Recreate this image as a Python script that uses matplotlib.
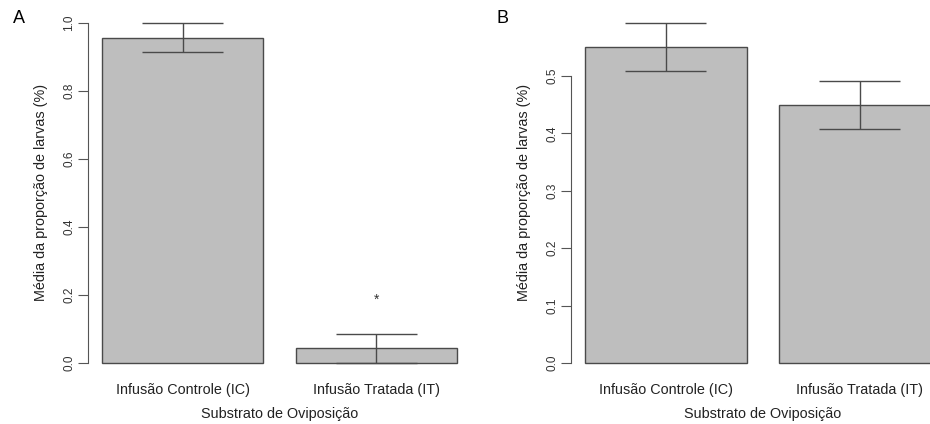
import matplotlib.pyplot as plt
import numpy as np

plt.rcParams['font.family'] = ['Liberation Sans', 'DejaVu Sans']

# dados
categorias = ['Infusão Controle (IC)', 'Infusão Tratada (IT)']
media_A = [0.956, 0.043]
ep_A = [0.044, 0.043]
media_B = [0.551, 0.449]
ep_B = [0.042, 0.042]
ticks_A = [0.0, 0.2, 0.4, 0.6, 0.8, 1.0]
ticks_B = [0.0, 0.1, 0.2, 0.3, 0.4, 0.5]
asterisco_A = [(2, 0.185)]

cinza = '#bebebe'
borda = '#4a4a4a'

fig = plt.figure(figsize=(9.3, 4.24), dpi=100)
axA = fig.add_axes([0.0941, 0.1118, 0.4129, 0.8672])
axB = fig.add_axes([0.6138, 0.1118, 0.4129, 0.8672])


def painel(ax, medias, eps, ticks, ymax, letra):
    x = np.array([0.7, 1.9])
    ax.bar(x, medias, width=1.0, color=cinza, edgecolor=borda, linewidth=1.0)
    lo = np.array(medias) - np.array(eps)
    hi = np.array(medias) + np.array(eps)
    ax.vlines(x, lo, hi, color=borda, linewidth=1.0)
    ax.hlines(lo, x - 0.25, x + 0.25, color=borda, linewidth=1.0)
    ax.hlines(hi, x - 0.25, x + 0.25, color=borda, linewidth=1.0)
    ax.set_xlim(0.112, 2.488)
    ax.set_ylim(-0.04 * ymax, 1.04 * ymax)
    for s in ['top', 'right', 'bottom']:
        ax.spines[s].set_visible(False)
    ax.spines['left'].set_bounds(ticks[0], ticks[-1])
    ax.spines['left'].set_color('#555555')
    ax.set_yticks(ticks)
    ax.set_yticklabels(['%.1f' % t for t in ticks], rotation=90, va='center',
                       fontsize=8.5, color='#333333')
    ax.tick_params(axis='y', length=7, width=0.8, color='#555555', pad=2)
    ax.set_xticks(x)
    ax.set_xticklabels(categorias, fontsize=10.4, color='#222222')
    ax.tick_params(axis='x', length=0, pad=4.5)
    ax.set_ylabel('Média da proporção de larvas (%)', fontsize=10.4,
                  color='#222222', va='center')
    ax.yaxis.set_label_coords(-0.121, 0.5)
    ax.set_xlabel('Substrato de Oviposição', fontsize=10.4, color='#222222', va='center')
    ax.xaxis.set_label_coords(0.5, -0.102)
    ax.text(-0.178, 0.975, letra, transform=ax.transAxes, fontsize=13,
            ha='center', va='center')


painel(axA, media_A, ep_A, ticks_A, 1.0, 'A')
painel(axB, media_B, ep_B, ticks_B, 0.593, 'B')
for xa, ya in asterisco_A:
    axA.text(xa - 0.1, ya, '*', ha='center', va='center', fontsize=10, color='#333333')

fig.savefig('out.png', dpi=100)
